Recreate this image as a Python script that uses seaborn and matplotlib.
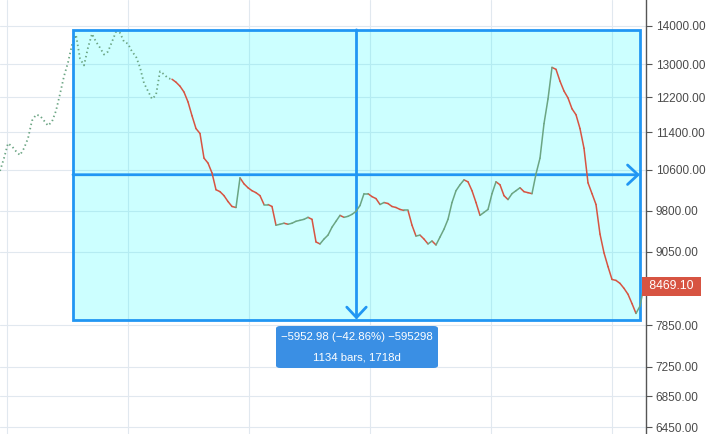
import numpy as np
import pandas as pd
import matplotlib
matplotlib.use("Agg")
import matplotlib.pyplot as plt
from matplotlib.ticker import FixedLocator, NullLocator, NullFormatter
from matplotlib.patches import Rectangle, FancyBboxPatch
import matplotlib.transforms as mtransforms
import seaborn as sns

# ── Data ─────────────────────────────────────────────────────────────────────
first_bar = -146
bar_step = 8
close = [
    10580, 10845, 11159, 11095, 10990, 10907, 11053, 11266, 11659, 11793,
    11770, 11659, 11548, 11636, 11883, 12274, 12703, 13044, 13500, 13761,
    13145, 12971, 13423, 13788, 13578, 13423, 13246, 13322, 13578, 13840,
    13814, 13578, 13526, 13322, 13195, 12922, 12534, 12345, 12158, 12251,
    12824, 12751, 12654, 12630,
    12558, 12461, 12321, 12089, 11770, 11482, 11373, 10845, 10742, 10539,
    10203, 10165, 10087, 9973, 9878, 9859, 10439, 10320, 10242, 10184,
    10145, 10087, 9916, 9916, 9878, 9527, 9545, 9564, 9545, 9564,
    9600, 9618, 9636, 9673, 9636, 9224, 9189, 9276, 9347, 9491,
    9600, 9710, 9673, 9692, 9729, 9785, 9897, 10126, 10126, 10068,
    10030, 9916, 9954, 9935, 9878, 9859, 9822, 9803, 9803, 9527,
    9330, 9347, 9276, 9189, 9241, 9171, 9312, 9455, 9636, 9954,
    10184, 10301, 10399, 10360, 10184, 9954, 9710, 9766, 9822, 10126,
    10360, 10301, 10087, 10011, 10126, 10184, 10242, 10165, 10145, 10126,
    10519, 10845, 11592, 12158, 12922, 12873, 12582, 12345, 12182, 11929,
    11793, 11482, 11053, 10340, 10126, 9916, 9365, 9032, 8795, 8580,
    8564, 8515, 8434, 8338, 8189, 8035, 8150, 8469.10,
]
n_dotted = 44  # early bars that show as sparse dots

y_ticks = [14000, 13000, 12200, 11400, 10600, 9800, 9050, 7850, 7250, 6850, 6450]
last_price = 8469.10

range_start_bar = 0
range_end_bar = 1134
range_top = 13893.00
range_bottom = 7940.02
range_text = "\u22125952.98 (\u221242.86%) \u2212595298"
range_text2 = "1134 bars, 1718d"

x_grid = [-132, 110, 352, 594, 836, 1078]

UP = "#6ba583"
DOWN = "#d75442"
BLUE = "#2196f3"

# ── Frame ────────────────────────────────────────────────────────────────────
bars = first_bar + bar_step * np.arange(len(close))
df = pd.DataFrame({"bar": bars, "price": close})

seg_rows = []
for i in range(n_dotted - 1, len(close) - 1):
    d = "up" if close[i + 1] >= close[i] else "down"
    seg_rows.append({"seg": i, "bar": bars[i], "price": close[i], "dir": d})
    seg_rows.append({"seg": i, "bar": bars[i + 1], "price": close[i + 1], "dir": d})
segs = pd.DataFrame(seg_rows)

sns.set_style("white")
plt.rcParams["font.family"] = ["Liberation Sans", "DejaVu Sans"]

fig = plt.figure(figsize=(7.21, 4.34), dpi=100)
ax = fig.add_axes([0, 0, 646 / 721, 1])
ax.set_yscale("log")

# sparse early history: dotted trail
sns.lineplot(data=df.iloc[:n_dotted], x="bar", y="price", ax=ax, color=UP,
             lw=1.3, linestyle=(0, (0.8, 1.6)), estimator=None, zorder=2)
sns.lineplot(data=segs, x="bar", y="price", units="seg", hue="dir",
             estimator=None, palette={"up": UP, "down": DOWN}, legend=False,
             lw=1.1, ax=ax, zorder=4)

ax.set_xlim(-146, 1146)
ax.set_ylim(6366, 14718)

# axes & grid
ax.yaxis.tick_right()
ax.yaxis.set_major_locator(FixedLocator(y_ticks))
ax.yaxis.set_minor_locator(NullLocator())
ax.yaxis.set_minor_formatter(NullFormatter())
ax.set_yticklabels([f"{v:.2f}" for v in y_ticks])
ax.xaxis.set_major_locator(FixedLocator(x_grid))
ax.tick_params(axis="x", length=0, labelbottom=False)
ax.tick_params(axis="y", direction="out", length=4, width=0.8, color="#555555",
               labelsize=8.5, labelcolor="#4a4a4a", pad=3, right=True, left=False)
ax.grid(True, color="#e1e8ef", lw=0.8)
ax.set_axisbelow(True)
for side in ["top", "left", "bottom"]:
    ax.spines[side].set_visible(False)
ax.spines["right"].set_color("#555555")
ax.spines["right"].set_linewidth(1)
ax.set_xlabel("")
ax.set_ylabel("")

# range measurement box
ax.add_patch(Rectangle((range_start_bar, range_bottom), range_end_bar - range_start_bar,
                       range_top - range_bottom, facecolor="cyan", alpha=0.2,
                       edgecolor="none", zorder=1))
ax.add_patch(Rectangle((range_start_bar, range_bottom), range_end_bar - range_start_bar,
                       range_top - range_bottom, facecolor="none", edgecolor=BLUE,
                       lw=2, zorder=3))
mid_price = np.sqrt(range_top * range_bottom)
mid_bar = (range_start_bar + range_end_bar) / 2
arrow = dict(arrowstyle="->,head_length=0.75,head_width=0.7", lw=2, color=BLUE,
             shrinkA=0, shrinkB=0)
ax.annotate("", xy=(range_end_bar, mid_price), xytext=(range_start_bar, mid_price),
            arrowprops=arrow, zorder=3)
ax.annotate("", xy=(mid_bar, range_bottom), xytext=(mid_bar, range_top),
            arrowprops=arrow, zorder=3)

# info label
box = FancyBboxPatch((276 / 721, 66 / 434), 162 / 721, 42 / 434,
                     boxstyle="round,pad=0,rounding_size=0.006",
                     transform=fig.transFigure, facecolor="#3a8fe4",
                     edgecolor="none", zorder=5)
fig.patches.append(box)
fig.text(357 / 721, (434 - 337) / 434, range_text, color="white", fontsize=8.2,
         ha="center", va="center", zorder=6)
fig.text(357 / 721, (434 - 358) / 434, range_text2, color="white", fontsize=8.2,
         ha="center", va="center", zorder=6)

# last price label
trans = mtransforms.blended_transform_factory(ax.transAxes, ax.transData)
ax.text(1.0, last_price, f" {last_price:.2f} ", transform=trans, ha="left",
        va="center", color="white", fontsize=8.8, clip_on=False, zorder=6,
        bbox=dict(boxstyle="square,pad=0.3", facecolor=DOWN, edgecolor="none"))

fig.savefig("out.png", dpi=100)
